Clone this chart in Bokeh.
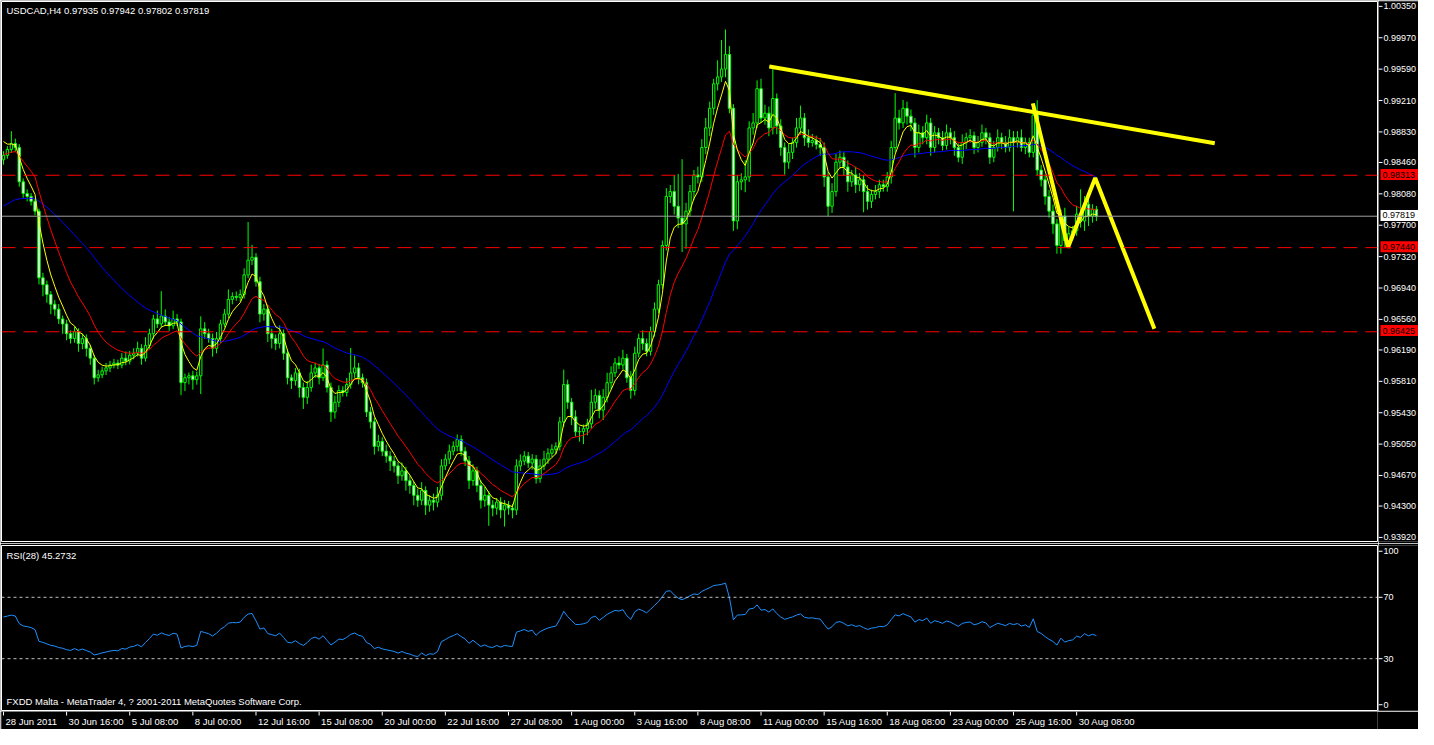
import numpy as np
from bokeh.plotting import figure
from bokeh.layouts import column, row
from bokeh.models import Range1d, Span, Label, ColumnDataSource
from bokeh.core.properties import value
from bokeh.embed import file_html
from bokeh.resources import INLINE

# ---------------- data ----------------
chart_title = "USDCAD,H4  0.97935 0.97942 0.97802 0.97819"
rsi_title = "RSI(28) 45.2732"
footer_text = "FXDD Malta - MetaTrader 4, ? 2001-2011 MetaQuotes Software Corp."

first_open = 0.98500
closes = [
    0.98553, 0.98624, 0.98695, 0.98648, 0.98234, 0.98092, 0.98057, 0.97998, 0.97880, 0.97076,
    0.96993, 0.96875, 0.96757, 0.96698, 0.96580, 0.96520, 0.96402, 0.96343, 0.96426, 0.96284,
    0.96343, 0.96225, 0.96107, 0.95870, 0.95906, 0.95953, 0.95989, 0.96024, 0.96048, 0.96024,
    0.96107, 0.96071, 0.96142, 0.96166, 0.96225, 0.96107, 0.96260, 0.96402, 0.96580, 0.96520,
    0.96615, 0.96544, 0.96497, 0.96580, 0.96544, 0.95811, 0.95870, 0.95894, 0.95847, 0.95894,
    0.96461, 0.96402, 0.96343, 0.96225, 0.96343, 0.96520, 0.96639, 0.96816, 0.96851, 0.96840,
    0.96875, 0.97111, 0.97289, 0.97324, 0.97029, 0.96639, 0.96698, 0.96402, 0.96343, 0.96284,
    0.96402, 0.96166, 0.95870, 0.95835, 0.95929, 0.95752, 0.95634, 0.95752, 0.95929, 0.95989,
    0.95870, 0.96024, 0.95752, 0.95457, 0.95575, 0.95717, 0.95693, 0.95788, 0.95929, 0.95989,
    0.95870, 0.95811, 0.95457, 0.95338, 0.95043, 0.95102, 0.94984, 0.94925, 0.94866, 0.94807,
    0.94688, 0.94747, 0.94629, 0.94570, 0.94452, 0.94393, 0.94511, 0.94334, 0.94393, 0.94369,
    0.94452, 0.94807, 0.94889, 0.94984, 0.95043, 0.95126, 0.94984, 0.94866, 0.94629, 0.94747,
    0.94570, 0.94393, 0.94452, 0.94334, 0.94298, 0.94369, 0.94275, 0.94334, 0.94298, 0.94275,
    0.94807, 0.94866, 0.94925, 0.94842, 0.94889, 0.94653, 0.94807, 0.94889, 0.94960, 0.95007,
    0.95043, 0.95338, 0.95788, 0.95575, 0.95398, 0.95220, 0.95220, 0.95256, 0.95315, 0.95575,
    0.95657, 0.95480, 0.95634, 0.95811, 0.95929, 0.96048, 0.96024, 0.96107, 0.95870, 0.95717,
    0.96166, 0.96343, 0.96284, 0.96189, 0.96426, 0.96698, 0.96993, 0.97466, 0.98057, 0.98116,
    0.97939, 0.97797, 0.97726, 0.97880, 0.98116, 0.98317, 0.98293, 0.98648, 0.98884, 0.99121,
    0.99416, 0.99499, 0.99594, 0.99771, 0.99121, 0.97762, 0.98234, 0.98258, 0.98293, 0.98884,
    0.98944, 0.99357, 0.99003, 0.99062, 0.98884, 0.99239, 0.98908, 0.98648, 0.98471, 0.98589,
    0.98707, 0.98884, 0.99003, 0.98766, 0.98707, 0.98731, 0.98684, 0.98648, 0.98293, 0.97939,
    0.98116, 0.98471, 0.98530, 0.98412, 0.98234, 0.98317, 0.98199, 0.98258, 0.98116, 0.97998,
    0.98081, 0.98116, 0.98199, 0.98175, 0.98293, 0.98648, 0.99003, 0.98944, 0.99121, 0.99026,
    0.98944, 0.98648, 0.98825, 0.98766, 0.98944, 0.98648, 0.98825, 0.98766, 0.98672, 0.98825,
    0.98766, 0.98648, 0.98530, 0.98707, 0.98766, 0.98790, 0.98648, 0.98707, 0.98825, 0.98766,
    0.98530, 0.98648, 0.98766, 0.98707, 0.98648, 0.98766, 0.98707, 0.98766, 0.98648, 0.98707,
    0.98589, 0.99038, 0.98376, 0.98258, 0.98057, 0.97880, 0.97726, 0.97466, 0.97821, 0.97525,
    0.97608, 0.97643, 0.97844, 0.97762, 0.97962, 0.97821, 0.97903, 0.97819,
]
# wick lengths beyond the candle body, in pips
wick_up_pips = [
    5, 4, 15, 6, 4, 4, 5, 4, 4, 3,
    6, 5, 4, 5, 6, 4, 5, 4, 6, 4,
    6, 5, 4, 4, 6, 5, 6, 5, 5, 4,
    6, 8, 5, 6, 8, 5, 10, 6, 5, 10,
    30, 8, 6, 10, 6, 4, 5, 4, 6, 5,
    15, 8, 6, 6, 8, 5, 6, 12, 5, 6,
    6, 8, 46, 15, 5, 6, 6, 5, 6, 5,
    10, 5, 5, 4, 6, 5, 6, 8, 10, 6,
    5, 20, 5, 6, 8, 6, 5, 8, 30, 15,
    6, 5, 5, 6, 5, 8, 5, 8, 6, 6,
    5, 10, 5, 6, 5, 8, 10, 5, 6, 8,
    10, 8, 6, 8, 6, 6, 5, 5, 6, 8,
    5, 6, 10, 5, 6, 5, 6, 6, 5, 5,
    8, 8, 6, 5, 6, 5, 8, 10, 6, 6,
    5, 6, 18, 6, 5, 8, 6, 5, 6, 15,
    8, 6, 10, 12, 8, 6, 8, 10, 5, 8,
    8, 6, 10, 6, 6, 8, 6, 6, 10, 8,
    20, 39, 71, 10, 8, 6, 10, 10, 12, 8,
    6, 20, 35, 30, 10, 5, 8, 8, 20, 8,
    12, 10, 12, 10, 8, 39, 6, 8, 6, 10,
    6, 12, 15, 6, 10, 8, 6, 8, 6, 6,
    10, 10, 8, 6, 8, 6, 10, 8, 6, 8,
    6, 8, 6, 6, 6, 8, 30, 10, 10, 8,
    8, 6, 10, 8, 10, 6, 8, 6, 8, 10,
    6, 8, 5, 10, 6, 8, 5, 8, 10, 6,
    6, 8, 10, 6, 8, 10, 8, 8, 10, 6,
    6, 14, 18, 6, 6, 8, 8, 6, 8, 10,
    8, 6, 10, 30, 10, 8, 6, 4,
]
wick_down_pips = [
    6, 4, 4, 5, 6, 5, 6, 5, 5, 8,
    14, 10, 12, 8, 6, 12, 8, 6, 5, 10,
    7, 10, 8, 8, 5, 4, 5, 5, 4, 5,
    4, 5, 4, 5, 4, 8, 4, 4, 6, 5,
    4, 5, 6, 4, 5, 15, 10, 8, 12, 6,
    22, 6, 5, 10, 6, 5, 4, 5, 6, 4,
    5, 5, 4, 6, 6, 10, 8, 10, 12, 8,
    6, 8, 8, 10, 6, 12, 14, 8, 5, 6,
    8, 4, 6, 12, 8, 6, 5, 5, 5, 6,
    8, 6, 6, 8, 10, 6, 6, 8, 12, 8,
    10, 6, 12, 10, 12, 8, 6, 12, 8, 10,
    6, 6, 5, 6, 5, 6, 6, 6, 10, 6,
    8, 10, 8, 25, 10, 8, 10, 20, 8, 10,
    6, 6, 5, 6, 8, 6, 5, 5, 6, 5,
    6, 5, 6, 8, 10, 6, 12, 15, 8, 6,
    8, 10, 12, 6, 8, 5, 5, 5, 6, 10,
    6, 5, 8, 6, 5, 6, 5, 5, 6, 8,
    10, 12, 34, 30, 6, 10, 8, 6, 8, 10,
    8, 8, 6, 10, 6, 12, 10, 10, 15, 6,
    8, 6, 6, 8, 10, 8, 10, 10, 15, 8,
    8, 6, 8, 10, 6, 5, 6, 10, 12, 12,
    8, 6, 8, 10, 12, 6, 10, 8, 25, 10,
    8, 6, 8, 6, 6, 8, 6, 8, 6, 10,
    10, 12, 6, 8, 8, 10, 6, 8, 6, 5,
    8, 10, 6, 8, 8, 6, 8, 6, 5, 8,
    8, 6, 5, 8, 6, 5, 83, 6, 5, 8,
    6, 6, 6, 8, 10, 8, 12, 10, 10, 8,
    6, 8, 6, 8, 12, 12, 8, 6,
]

date_tick_bars = [0, 16, 32, 48, 64, 80, 96, 112, 128, 144, 160, 176, 192, 208, 224, 240, 256, 272]
date_tick_labels = ["28 Jun 2011", "30 Jun 16:00", "5 Jul 08:00", "8 Jul 00:00", "12 Jul 16:00",
                    "15 Jul 08:00", "20 Jul 00:00", "22 Jul 16:00", "27 Jul 08:00", "1 Aug 00:00",
                    "3 Aug 16:00", "8 Aug 08:00", "11 Aug 00:00", "15 Aug 16:00", "18 Aug 08:00",
                    "23 Aug 00:00", "25 Aug 16:00", "30 Aug 08:00"]
price_ticks = [1.00350, 0.99970, 0.99590, 0.99210, 0.98830, 0.98460, 0.98080, 0.97700, 0.97320,
               0.96940, 0.96560, 0.96190, 0.95810, 0.95430, 0.95050, 0.94670, 0.94300, 0.93920]
rsi_ticks = [0, 30, 70, 100]
rsi_levels = [70, 30]

hline_levels = [0.98313, 0.97440, 0.96425]
bid_price = 0.97819

trend_bars = [194.1, 307.0]
trend_prices = [0.99625, 0.98699]
zigzag_bars = [260.9, 269.8, 276.7, 291.7]
zigzag_prices = [0.99180, 0.97442, 0.98280, 0.96461]

ma_fast_period, ma_mid_period, ma_slow_period = 5, 13, 55
ma_fast_start, ma_mid_start, ma_slow_prior = 0.98720, 0.98565, 0.97920
rsi_period = 28
rsi_start_gain, rsi_start_loss = 0.00100, 0.00075

x_view = (-0.5, 348.25)
price_view = (0.93895, 1.00409)
rsi_view = (-3.75, 103.75)


# ---------------- derived ----------------
def ema(vals, period, start):
    a = 2.0 / (period + 1)
    out = [start]
    for v in vals[1:]:
        out.append(out[-1] + a * (v - out[-1]))
    return np.array(out)


def lwma(vals, period, prior):
    ext = np.concatenate([np.full(period - 1, prior), vals])
    w = np.arange(1, period + 1, dtype=float)
    return np.array([np.dot(ext[i:i + period], w) / w.sum() for i in range(len(vals))])


def rsi(vals, period, g0, l0):
    ag, al = g0, l0
    out = [100 * ag / (ag + al)]
    for i in range(1, len(vals)):
        d = vals[i] - vals[i - 1]
        ag = (ag * (period - 1) + max(d, 0)) / period
        al = (al * (period - 1) + max(-d, 0)) / period
        out.append(100 * ag / (ag + al))
    return np.array(out)


c = np.array(closes)
n = len(c)
idx = np.arange(n)
o = np.concatenate([[first_open], c[:-1]])
body_top = np.maximum(o, c)
body_bot = np.minimum(o, c)
hi = body_top + np.array(wick_up_pips[:n]) * 1e-4
lo = body_bot - np.array(wick_down_pips[:n]) * 1e-4
fills = ["black" if cc >= oo else "white" for oo, cc in zip(o, c)]

FONT = "Liberation Sans"
FS = "9.5px"
AFS = "9px"
LIME = "#00ff00"
MAIN_W, AXIS_W = 1378, 40
MAIN_H, RSI_H, DATE_H = 543, 168, 18


def black_fig(**kw):
    f = figure(output_backend="svg", toolbar_location=None, x_axis_location=None,
               y_axis_location=None, background_fill_color="black",
               border_fill_color="black", **kw)
    f.grid.visible = False
    return f


# ---------------- main price panel ----------------
main = black_fig(width=MAIN_W, height=MAIN_H, x_range=Range1d(*x_view),
                 y_range=Range1d(*price_view), outline_line_color="white",
                 min_border_left=1, min_border_right=1, min_border_top=1, min_border_bottom=2)

for lv in hline_levels:
    main.add_layout(Span(location=lv, dimension="width", line_color="#ff0000",
                         line_dash="14 8", line_width=1))
main.add_layout(Span(location=bid_price, dimension="width", line_color="#a0a0a0", line_width=1))

src = ColumnDataSource(dict(x=idx, top=body_top, bottom=body_bot, hi=hi, lo=lo, fill=fills))
main.segment("x", "hi", "x", "lo", source=src, line_color=LIME, line_width=1)
main.vbar(x="x", top="top", bottom="bottom", width=0.6, fill_color="fill",
          line_color=LIME, line_width=1, source=src)

main.line(idx, lwma(c, ma_slow_period, ma_slow_prior), line_color="#0000ff", line_width=1)
main.line(idx, ema(c, ma_mid_period, ma_mid_start), line_color="#ff0000", line_width=1)
main.line(idx, ema(c, ma_fast_period, ma_fast_start), line_color="#ffff00", line_width=1)

main.line(trend_bars, trend_prices, line_color="#ffff00", line_width=4)
main.line(zigzag_bars, zigzag_prices, line_color="#ffff00", line_width=4)

main.add_layout(Label(x=x_view[0], y=price_view[1], x_offset=5, y_offset=-3, text=chart_title,
                      text_font=FONT, text_font_size=FS, text_color="white", text_baseline="top"))

# price axis strip
dp = (price_view[1] - price_view[0]) / (MAIN_H - 3)
pax = black_fig(width=AXIS_W, height=MAIN_H, x_range=Range1d(0, AXIS_W),
                y_range=Range1d(price_view[0] - 2 * dp, price_view[1]), outline_line_color=None,
                min_border_left=0, min_border_right=0, min_border_top=1, min_border_bottom=0)
pax.segment(x0=0, x1=4, y0=price_ticks, y1=price_ticks, line_color="white", line_width=1)
pax.text(x=5, y=price_ticks, text=[f"{t:.5f}" for t in price_ticks], text_font=value(FONT),
         text_font_size=value(AFS), text_color="white", text_baseline="middle", text_align="left")
box_prices = hline_levels + [bid_price]
box_colors = ["#ff0000"] * len(hline_levels) + ["white"]
pax.rect(x=AXIS_W / 2 + 1, y=box_prices, width=AXIS_W - 2, height=11, height_units="screen",
         fill_color=box_colors, line_color=None)
pax.text(x=4, y=box_prices, text=[f"{b:.5f}" for b in box_prices], text_font=value(FONT),
         text_font_size=value(AFS), text_color="black", text_baseline="middle", text_align="left")

# ---------------- RSI panel ----------------
rp = black_fig(width=MAIN_W, height=RSI_H, x_range=main.x_range, y_range=Range1d(*rsi_view),
               outline_line_color="white", min_border_left=1, min_border_right=1,
               min_border_top=2, min_border_bottom=1)
for lv in rsi_levels:
    rp.add_layout(Span(location=lv, dimension="width", line_color="#c0c0c0",
                       line_dash="3 3", line_width=1))
rp.line(idx, rsi(c, rsi_period, rsi_start_gain, rsi_start_loss), line_color="#1e90ff", line_width=1)
rp.add_layout(Label(x=x_view[0], y=rsi_view[1], x_offset=5, y_offset=-4, text=rsi_title,
                    text_font=FONT, text_font_size=FS, text_color="white", text_baseline="top"))
rp.add_layout(Label(x=x_view[0], y=rsi_view[0], x_offset=5, y_offset=4, text=footer_text,
                    text_font=FONT, text_font_size=FS, text_color="white", text_baseline="bottom"))

rax = black_fig(width=AXIS_W, height=RSI_H, x_range=Range1d(0, AXIS_W), y_range=Range1d(*rsi_view),
                outline_line_color=None, min_border_left=0, min_border_right=0,
                min_border_top=2, min_border_bottom=1)
rax.segment(x0=0, x1=4, y0=rsi_ticks, y1=rsi_ticks, line_color="white", line_width=1)
rax.text(x=5, y=rsi_ticks, text=[str(t) for t in rsi_ticks], text_font=value(FONT),
         text_font_size=value(AFS), text_color="white", text_baseline="middle", text_align="left")

# ---------------- date axis strip ----------------
dax = black_fig(width=MAIN_W + AXIS_W, height=DATE_H, x_range=main.x_range,
                y_range=Range1d(DATE_H, 0), outline_line_color=None,
                min_border_left=1, min_border_right=AXIS_W + 1, min_border_top=0, min_border_bottom=0)
dax.segment(x0=date_tick_bars, x1=date_tick_bars, y0=0, y1=4, line_color="white", line_width=1)
dax.text(x=date_tick_bars, y=4, text=date_tick_labels, x_offset=2, text_font=value(FONT),
         text_font_size=value(FS), text_color="white", text_baseline="top", text_align="left")

layout = column(row(main, pax), row(rp, rax), dax)
open("out.html", "w").write(file_html(layout, INLINE))
